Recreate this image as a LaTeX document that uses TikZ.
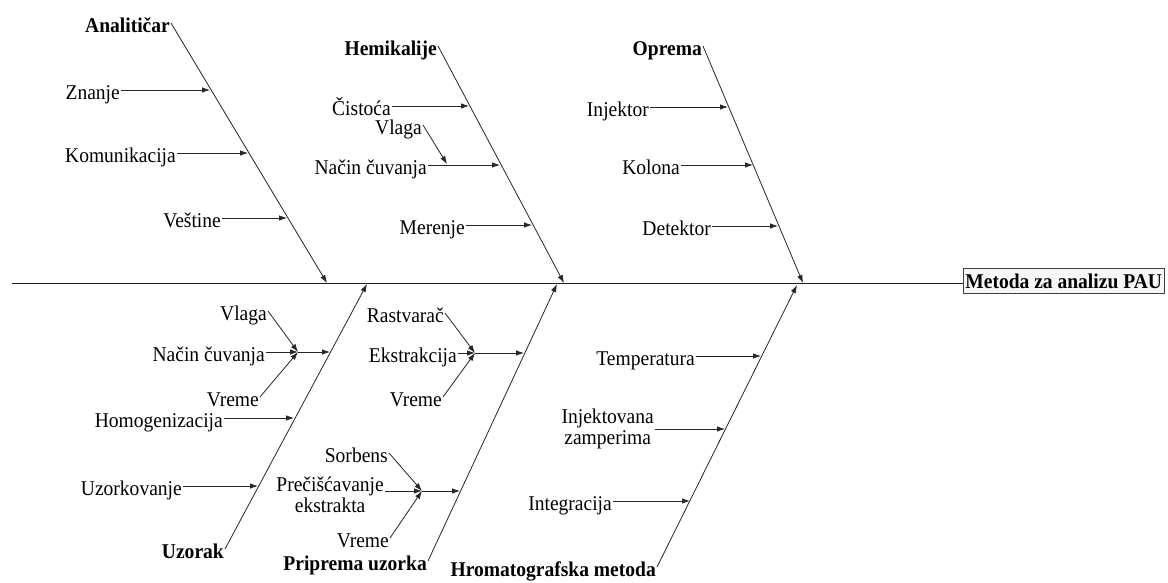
\documentclass[tikz,border=0pt]{standalone}
\usepackage{fontspec}
\setmainfont{Liberation Serif}[FakeStretch=0.93]
\usetikzlibrary{arrows.meta}
\begin{document}
\begin{tikzpicture}[x=1pt,y=-1pt,
  ln/.style={draw=black!85, line width=0.8pt},
  arr/.style={ln, -{Latex[length=8pt,width=5.5pt]}},
  lbl/.style={anchor=east, inner sep=1pt, text height=18.6pt, text depth=0pt, font=\fontsize{21pt}{23pt}\selectfont},
  head/.style={lbl, font=\fontsize{21pt}{23pt}\selectfont\bfseries},
  lbltwo/.style={anchor=east, align=center, inner sep=1pt, font=\fontsize{21pt}{21pt}\selectfont},
  effectbox/.style={draw=black!75, fill=black!3, line width=0.8pt, anchor=west, inner xsep=2pt, minimum height=25pt, font=\fontsize{21pt}{23pt}\selectfont\bfseries}
]
\useasboundingbox (0,0) rectangle (1168,582);

% spine and effect
\node[effectbox] (effect) at (963,281) {Metoda za analizu PAU};
\coordinate (s0) at (12,283);
\draw[ln] (s0) -- (s0 -| effect.west);

% ---------- Analiticar ----------
\node[head] (h1) at (171,23) {Analitičar};
\coordinate (b1) at (327,283);
\draw[arr] (h1.east) -- (b1);
\node[lbl] (c11) at (121,90) {Znanje};
\coordinate (t11) at (210,90);
\draw[arr] (c11.east) -- (t11);
\node[lbl] (c12) at (177,153) {Komunikacija};
\coordinate (t12) at (248,153);
\draw[arr] (c12.east) -- (t12);
\node[lbl] (c13) at (222,218) {Veštine};
\coordinate (t13) at (287,218);
\draw[arr] (c13.east) -- (t13);

% ---------- Hemikalije ----------
\node[head] (h2) at (438,46) {Hemikalije};
\coordinate (b2) at (564,283);
\draw[arr] (h2.east) -- (b2);
\node[lbl] (c21) at (392,106) {Čistoća};
\coordinate (t21) at (469,106);
\draw[arr] (c21.east) -- (t21);
\node[lbl] (c22) at (428,165) {Način čuvanja};
\coordinate (t22) at (500,165);
\draw[arr] (c22.east) -- (t22);
\node[lbl] (c22a) at (423,125) {Vlaga};
\coordinate (m0) at (447,164);
\draw[arr] (c22a.east) -- (m0);
\node[lbl] (c23) at (466,225) {Merenje};
\coordinate (t23) at (532,225);
\draw[arr] (c23.east) -- (t23);

% ---------- Oprema ----------
\node[head] (h3) at (703,46) {Oprema};
\coordinate (b3) at (803,283);
\draw[arr] (h3.east) -- (b3);
\node[lbl] (c31) at (650,107) {Injektor};
\coordinate (t31) at (728,107);
\draw[arr] (c31.east) -- (t31);
\node[lbl] (c32) at (681,165) {Kolona};
\coordinate (t32) at (753,165);
\draw[arr] (c32.east) -- (t32);
\node[lbl] (c33) at (712,226) {Detektor};
\coordinate (t33) at (778,226);
\draw[arr] (c33.east) -- (t33);

% ---------- Uzorak ----------
\node[head] (h4) at (225,549) {Uzorak};
\coordinate (b4) at (367,284);
\draw[arr] (h4.east) -- (b4);
\coordinate (m1) at (298,352);
\coordinate (t41) at (330,352);
\node[lbl] (c41a) at (268,311) {Vlaga};
\node[lbl] (c41) at (266,352) {Način čuvanja};
\node[lbl] (c41b) at (260,397) {Vreme};
\draw[arr] (c41a.east) -- (m1);
\draw[arr] (c41.east) -- (m1);
\draw[arr] (c41b.east) -- (m1);
\draw[arr] (m1) -- (t41);
\node[lbl] (c42) at (224,418) {Homogenizacija};
\coordinate (t42) at (294,418);
\draw[arr] (c42.east) -- (t42);
\node[lbl] (c43) at (183,486) {Uzorkovanje};
\coordinate (t43) at (258,486);
\draw[arr] (c43.east) -- (t43);

% ---------- Priprema uzorka ----------
\node[head] (h5) at (428,561) {Priprema uzorka};
\coordinate (b5) at (557,284);
\draw[arr] (h5.east) -- (b5);
\coordinate (m2) at (475,353);
\coordinate (t51) at (524,353);
\node[lbl] (c51a) at (445,313) {Rastvarač};
\node[lbl] (c51) at (458,353) {Ekstrakcija};
\node[lbl] (c51b) at (443,397) {Vreme};
\draw[arr] (c51a.east) -- (m2);
\draw[arr] (c51.east) -- (m2);
\draw[arr] (c51b.east) -- (m2);
\draw[arr] (m2) -- (t51);
\coordinate (m3) at (422,491);
\coordinate (t52) at (460,491);
\node[lbl] (c52a) at (389,453) {Sorbens};
\node[lbltwo] (c52) at (385,495) {Prečišćavanje\\ekstrakta};
\node[lbl] (c52b) at (390,538) {Vreme};
\draw[arr] (c52a.east) -- (m3);
\draw[arr] (c52.east |- m3) -- (m3);
\draw[arr] (c52b.east) -- (m3);
\draw[arr] (m3) -- (t52);

% ---------- Hromatografska metoda ----------
\node[head] (h6) at (657,567) {Hromatografska metoda};
\coordinate (b6) at (797,285);
\draw[arr] (h6.east) -- (b6);
\node[lbl] (c61) at (696,356) {Temperatura};
\coordinate (t61) at (761,356);
\draw[arr] (c61.east) -- (t61);
\node[lbltwo] (c62) at (655,429) {Injektovana\\zamperima};
\coordinate (t62) at (725,429);
\draw[arr] (c62.east) -- (t62);
\node[lbl] (c63) at (613,501) {Integracija};
\coordinate (t63) at (690,501);
\draw[arr] (c63.east) -- (t63);
\end{tikzpicture}
\end{document}
